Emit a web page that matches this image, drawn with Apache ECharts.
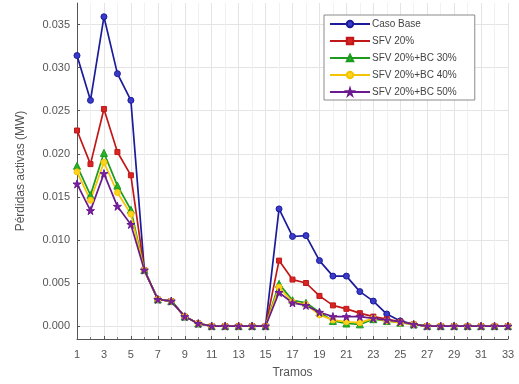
<!DOCTYPE html>
<html>
<head>
<meta charset="utf-8">
<script src="https://cdn.jsdelivr.net/npm/echarts@6/dist/echarts.min.js"></script>
<style>
  html, body { margin: 0; padding: 0; background: #fff; }
  #chart { width: 519px; height: 384px; }
</style>
</head>
<body>
<div id="chart"></div>
<script>
// Tramos 1..33
const tramos = Array.from({ length: 33 }, (_, i) => i + 1);

// Pérdidas activas por tramo (MW)
const casoBase = [0.0314, 0.0262, 0.0359, 0.0293, 0.0262, 0.0065, 0.0031, 0.0029, 0.0011, 0.0003,
  0, 0, 0, 0, 0, 0.0136, 0.0104, 0.0105, 0.0076, 0.0058, 0.0058, 0.0040, 0.0029, 0.0014, 0.0006,
  0.0002, 0, 0, 0, 0, 0, 0, 0];
const sfv20 = [0.0227, 0.0188, 0.0252, 0.0202, 0.0175, 0.0065, 0.0031, 0.0029, 0.0011, 0.0003,
  0, 0, 0, 0, 0, 0.0076, 0.0054, 0.0050, 0.0035, 0.0024, 0.0020, 0.0015, 0.0011, 0.0008, 0.0005,
  0.0002, 0, 0, 0, 0, 0, 0, 0];
const sfv20bc30 = [0.0186, 0.0152, 0.0201, 0.0163, 0.0135, 0.0065, 0.0031, 0.0029, 0.0011, 0.0003,
  0, 0, 0, 0, 0, 0.0049, 0.0030, 0.0027, 0.0016, 0.0006, 0.0003, 0.0002, 0.0008, 0.0006, 0.0004,
  0.0002, 0, 0, 0, 0, 0, 0, 0];
const sfv20bc40 = [0.0179, 0.0146, 0.0190, 0.0155, 0.0130, 0.0065, 0.0031, 0.0029, 0.0011, 0.0003,
  0, 0, 0, 0, 0, 0.0045, 0.0028, 0.0025, 0.0013, 0.0007, 0.0005, 0.0004, 0.0009, 0.0006, 0.0004,
  0.0002, 0, 0, 0, 0, 0, 0, 0];
const sfv20bc50 = [0.0165, 0.0134, 0.0177, 0.0139, 0.0118, 0.0065, 0.0031, 0.0029, 0.0011, 0.0003,
  0, 0, 0, 0, 0, 0.0039, 0.0027, 0.0024, 0.0016, 0.0011, 0.0011, 0.0011, 0.0009, 0.0007, 0.0005,
  0.0002, 0, 0, 0, 0, 0, 0, 0];

const xTicks = [1, 3, 5, 7, 9, 11, 13, 15, 17, 19, 21, 23, 25, 27, 29, 31, 33];
const yTicks = [0, 0.005, 0.01, 0.015, 0.02, 0.025, 0.03, 0.035];

const star = 'path://M50,0 L61,35 L98,35 L68,57 L79,91 L50,70 L21,91 L32,57 L2,35 L39,35 Z';

function pairs(values) {
  return tramos.map((t, i) => [t, values[i]]);
}

function line(name, values, lineColor, fill, symbol, size) {
  return {
    name, type: 'line', data: pairs(values),
    symbol, symbolSize: size, showAllSymbol: true,
    lineStyle: { color: lineColor, width: 1.7 },
    itemStyle: { color: fill, borderColor: lineColor, borderWidth: 1 },
    emphasis: { disabled: true },
    animation: false
  };
}

const font = 'Liberation Sans, Arial, sans-serif';

const chart = echarts.init(document.getElementById('chart'));
chart.setOption({
  backgroundColor: '#fff',
  textStyle: { fontFamily: font },
  grid: { left: 77, right: 11, top: 3, bottom: 42 },
  legend: {
    orient: 'vertical', left: 324, top: 15,
    itemWidth: 40, itemHeight: 8, itemGap: 7,
    padding: [4, 18, 3, 5],
    backgroundColor: '#fff', borderColor: '#8a8a8a', borderWidth: 1,
    textStyle: { fontSize: 10, color: '#444', fontFamily: font, padding: [0, 0, 0, -3] },
    data: ['Caso Base', 'SFV 20%', 'SFV 20%+BC 30%', 'SFV 20%+BC 40%', 'SFV 20%+BC 50%']
  },
  xAxis: {
    type: 'value', min: 1, max: 33, interval: 2,
    name: 'Tramos', nameLocation: 'middle', nameGap: 28,
    nameTextStyle: { fontSize: 12, color: '#555', fontFamily: font },
    axisLine: { onZero: false, lineStyle: { color: '#555' } },
    axisTick: { inside: true, length: 3, lineStyle: { color: '#555' }, customValues: xTicks },
    axisLabel: { color: '#555', fontSize: 11, margin: 10, customValues: xTicks },
    splitLine: { show: true, lineStyle: { color: '#e4e4e4' } },
    minorTick: { show: true, splitNumber: 2, length: 2, lineStyle: { color: '#777' } },
    minorSplitLine: { show: true, lineStyle: { color: '#f1f1f1' } }
  },
  yAxis: {
    type: 'value', min: -0.0015, max: 0.0375,
    name: 'Pérdidas activas (MW)', nameLocation: 'middle', nameGap: 50,
    nameTextStyle: { fontSize: 12, color: '#555', fontFamily: font },
    axisLine: { show: true, onZero: false, lineStyle: { color: '#555' } },
    axisTick: { show: true, inside: true, length: 3, lineStyle: { color: '#555' }, customValues: yTicks },
    axisLabel: { color: '#555', fontSize: 11, margin: 7, customValues: yTicks,
      formatter: v => v.toFixed(3) },
    splitLine: { show: true, lineStyle: { color: '#e4e4e4' } }
  },
  series: [
    line('Caso Base', casoBase, '#1c1c9a', '#3a3ac8', 'circle', 6),
    line('SFV 20%', sfv20, '#c01818', '#d82424', 'rect', 5),
    line('SFV 20%+BC 30%', sfv20bc30, '#1e9a1e', '#28b028', 'triangle', 7),
    line('SFV 20%+BC 40%', sfv20bc40, '#f5c400', '#ffd21f', 'circle', 6),
    line('SFV 20%+BC 50%', sfv20bc50, '#6a1a8e', '#7a1fa2', star, 8)
  ]
});
</script>
</body>
</html>
